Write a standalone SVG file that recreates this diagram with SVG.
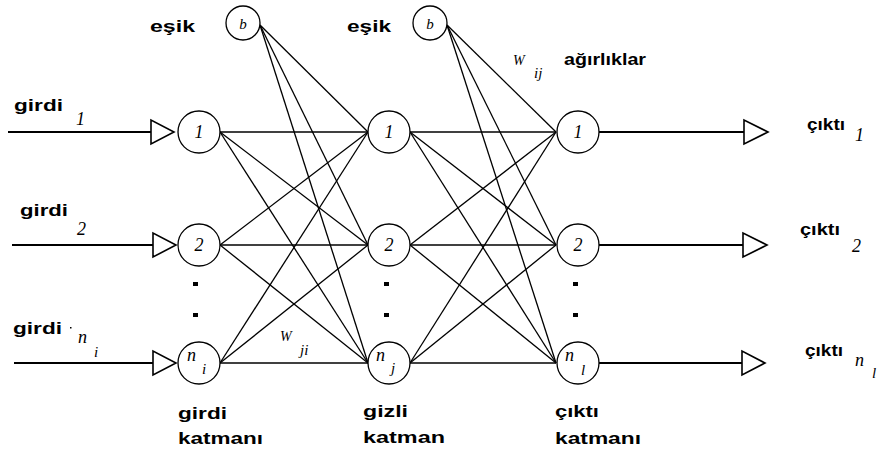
<svg xmlns="http://www.w3.org/2000/svg" width="882" height="450" viewBox="0 0 882 450">
  <style>
    .bg { fill: #ffffff; }
    .node { fill: #ffffff; stroke: #000000; stroke-width: 1.3; }
    .io { fill: none; stroke: #000000; stroke-width: 1.9; }
    .tri { fill: #ffffff; stroke: #000000; stroke-width: 1.6; stroke-linejoin: miter; }
    .edge { fill: none; stroke: #000000; stroke-width: 1.3; }
    .lbl { font-family: "Liberation Sans", Arial, sans-serif; font-weight: bold; font-size: 17px; fill: #000000; }
    .sym { font-family: "Liberation Serif", "Times New Roman", serif; font-style: italic; font-size: 18px; fill: #000000; }
    .nsym { font-family: "Liberation Serif", "Times New Roman", serif; font-style: italic; font-size: 18px; fill: #000000; }
    .sub { font-family: "Liberation Serif", "Times New Roman", serif; font-style: italic; font-size: 15px; fill: #000000; }
    .w { font-family: "Liberation Serif", "Times New Roman", serif; font-style: italic; font-size: 14px; fill: #000000; }
    .b { font-family: "Liberation Serif", "Times New Roman", serif; font-style: italic; font-size: 15px; fill: #000000; }
    .dot { fill: #000000; }
  </style>
  <rect class="bg" x="0" y="0" width="882" height="450"/>

  <!-- weighted connections between layers -->
  <g id="connectors">
    <!-- input layer to hidden layer -->
    <line class="edge" x1="220" y1="132" x2="368" y2="132"/>
    <line class="edge" x1="220" y1="132" x2="368" y2="245"/>
    <line class="edge" x1="220" y1="132" x2="368" y2="363"/>
    <line class="edge" x1="220" y1="245" x2="368" y2="132"/>
    <line class="edge" x1="220" y1="245" x2="368" y2="245"/>
    <line class="edge" x1="220" y1="245" x2="368" y2="363"/>
    <line class="edge" x1="220" y1="363" x2="368" y2="132"/>
    <line class="edge" x1="220" y1="363" x2="368" y2="245"/>
    <line class="edge" x1="220" y1="363" x2="368" y2="363"/>
    <!-- threshold to hidden layer -->
    <line class="edge" x1="260" y1="25" x2="368" y2="132"/>
    <line class="edge" x1="260" y1="25" x2="368" y2="245"/>
    <line class="edge" x1="260" y1="25" x2="368" y2="363"/>
    <!-- hidden layer to output layer -->
    <line class="edge" x1="410" y1="132" x2="556" y2="132"/>
    <line class="edge" x1="410" y1="132" x2="556" y2="245"/>
    <line class="edge" x1="410" y1="132" x2="556" y2="363"/>
    <line class="edge" x1="410" y1="245" x2="556" y2="132"/>
    <line class="edge" x1="410" y1="245" x2="556" y2="245"/>
    <line class="edge" x1="410" y1="245" x2="556" y2="363"/>
    <line class="edge" x1="410" y1="363" x2="556" y2="132"/>
    <line class="edge" x1="410" y1="363" x2="556" y2="245"/>
    <line class="edge" x1="410" y1="363" x2="556" y2="363"/>
    <!-- threshold to output layer -->
    <line class="edge" x1="447" y1="25" x2="556" y2="132"/>
    <line class="edge" x1="447" y1="25" x2="556" y2="245"/>
    <line class="edge" x1="447" y1="25" x2="556" y2="363"/>

    <!-- input leads -->
    <line class="io" x1="8" y1="132" x2="151" y2="132"/>
    <line class="io" x1="12" y1="245" x2="153" y2="245"/>
    <line class="io" x1="14" y1="363" x2="153" y2="363"/>
    <polygon class="tri" points="151,120 151,144 174,132"/>
    <polygon class="tri" points="153,233 153,257 176,245"/>
    <polygon class="tri" points="153,351 153,375 176,363"/>

    <!-- output leads -->
    <line class="io" x1="599" y1="132" x2="744" y2="132"/>
    <line class="io" x1="599" y1="245" x2="743" y2="245"/>
    <line class="io" x1="599" y1="363" x2="742" y2="363"/>
    <polygon class="tri" points="744,120 744,144 768,132"/>
    <polygon class="tri" points="743,233 743,257 767,245"/>
    <polygon class="tri" points="742,351 742,375 765,363"/>
  </g>

  <!-- threshold units -->
  <g id="bias-1">
    <circle class="node" cx="243" cy="23" r="17"/>
    <text class="b" x="243" y="29" text-anchor="middle">b</text>
  </g>
  <g id="bias-2">
    <circle class="node" cx="430" cy="23" r="17"/>
    <text class="b" x="430" y="29" text-anchor="middle">b</text>
  </g>

  <!-- input layer -->
  <g id="input-1">
    <circle class="node" cx="199" cy="132" r="21"/>
    <text class="sym" x="199" y="138" text-anchor="middle">1</text>
  </g>
  <g id="input-2">
    <circle class="node" cx="199" cy="245" r="21"/>
    <text class="sym" x="199" y="251" text-anchor="middle">2</text>
  </g>
  <g id="input-n">
    <circle class="node" cx="199" cy="363" r="21"/>
    <text class="nsym" x="187" y="361">n</text>
    <text class="sub" x="202" y="374">i</text>
  </g>

  <!-- hidden layer -->
  <g id="hidden-1">
    <circle class="node" cx="389" cy="132" r="21"/>
    <text class="sym" x="389" y="138" text-anchor="middle">1</text>
  </g>
  <g id="hidden-2">
    <circle class="node" cx="389" cy="245" r="21"/>
    <text class="sym" x="389" y="251" text-anchor="middle">2</text>
  </g>
  <g id="hidden-n">
    <circle class="node" cx="389" cy="363" r="21"/>
    <text class="nsym" x="376" y="361">n</text>
    <text class="sub" x="391" y="373">j</text>
  </g>

  <!-- output layer -->
  <g id="output-1">
    <circle class="node" cx="578" cy="132" r="21"/>
    <text class="sym" x="578" y="138" text-anchor="middle">1</text>
  </g>
  <g id="output-2">
    <circle class="node" cx="578" cy="245" r="21"/>
    <text class="sym" x="578" y="251" text-anchor="middle">2</text>
  </g>
  <g id="output-n">
    <circle class="node" cx="578" cy="363" r="21"/>
    <text class="nsym" x="565" y="361">n</text>
    <text class="sub" x="581" y="375">l</text>
  </g>

  <!-- ellipsis dots between units -->
  <g id="ellipses">
    <rect class="dot" x="193" y="282" width="5" height="4"/>
    <rect class="dot" x="193" y="313" width="5" height="4"/>
    <rect class="dot" x="384" y="282" width="5" height="4"/>
    <rect class="dot" x="384" y="313" width="5" height="4"/>
    <rect class="dot" x="573" y="282" width="5" height="4"/>
    <rect class="dot" x="573" y="313" width="5" height="4"/>
  </g>

  <!-- labels -->
  <g id="labels">
    <text class="lbl" x="150" y="32" textLength="45" lengthAdjust="spacingAndGlyphs">eşik</text>
    <text class="lbl" x="347" y="32" textLength="44" lengthAdjust="spacingAndGlyphs">eşik</text>

    <text class="lbl" x="14" y="111" textLength="49" lengthAdjust="spacingAndGlyphs">girdi</text>
    <text class="sym" x="76" y="125">1</text>
    <text class="lbl" x="20" y="216" textLength="48" lengthAdjust="spacingAndGlyphs">girdi</text>
    <text class="sym" x="77" y="235">2</text>
    <text class="lbl" x="13" y="334" textLength="49" lengthAdjust="spacingAndGlyphs">girdi</text>
    <rect class="dot" x="70" y="327" width="1.5" height="1.5"/>
    <text class="nsym" x="78" y="343">n</text>
    <text class="sub" x="94" y="357">i</text>

    <text class="w" x="280" y="341">W</text>
    <text class="sub" x="300" y="355">ji</text>
    <text class="w" x="513" y="65">W</text>
    <text class="sub" x="534" y="78">ij</text>
    <text class="lbl" x="564" y="65" textLength="82" lengthAdjust="spacingAndGlyphs">ağırlıklar</text>

    <text class="lbl" x="807" y="130" textLength="38" lengthAdjust="spacingAndGlyphs">çıktı</text>
    <text class="sym" x="855" y="141">1</text>
    <text class="lbl" x="800" y="235" textLength="40" lengthAdjust="spacingAndGlyphs">çıktı</text>
    <text class="sym" x="852" y="252">2</text>
    <text class="lbl" x="805" y="356" textLength="38" lengthAdjust="spacingAndGlyphs">çıktı</text>
    <text class="nsym" x="855" y="366">n</text>
    <text class="sub" x="872" y="378">l</text>

    <text class="lbl" x="178" y="419" textLength="49" lengthAdjust="spacingAndGlyphs">girdi</text>
    <text class="lbl" x="178" y="444" textLength="85" lengthAdjust="spacingAndGlyphs">katmanı</text>
    <text class="lbl" x="363" y="417" textLength="45" lengthAdjust="spacingAndGlyphs">gizli</text>
    <text class="lbl" x="363" y="443" textLength="82" lengthAdjust="spacingAndGlyphs">katman</text>
    <text class="lbl" x="555" y="417" textLength="44" lengthAdjust="spacingAndGlyphs">çıktı</text>
    <text class="lbl" x="555" y="444" textLength="86" lengthAdjust="spacingAndGlyphs">katmanı</text>
  </g>
</svg>
